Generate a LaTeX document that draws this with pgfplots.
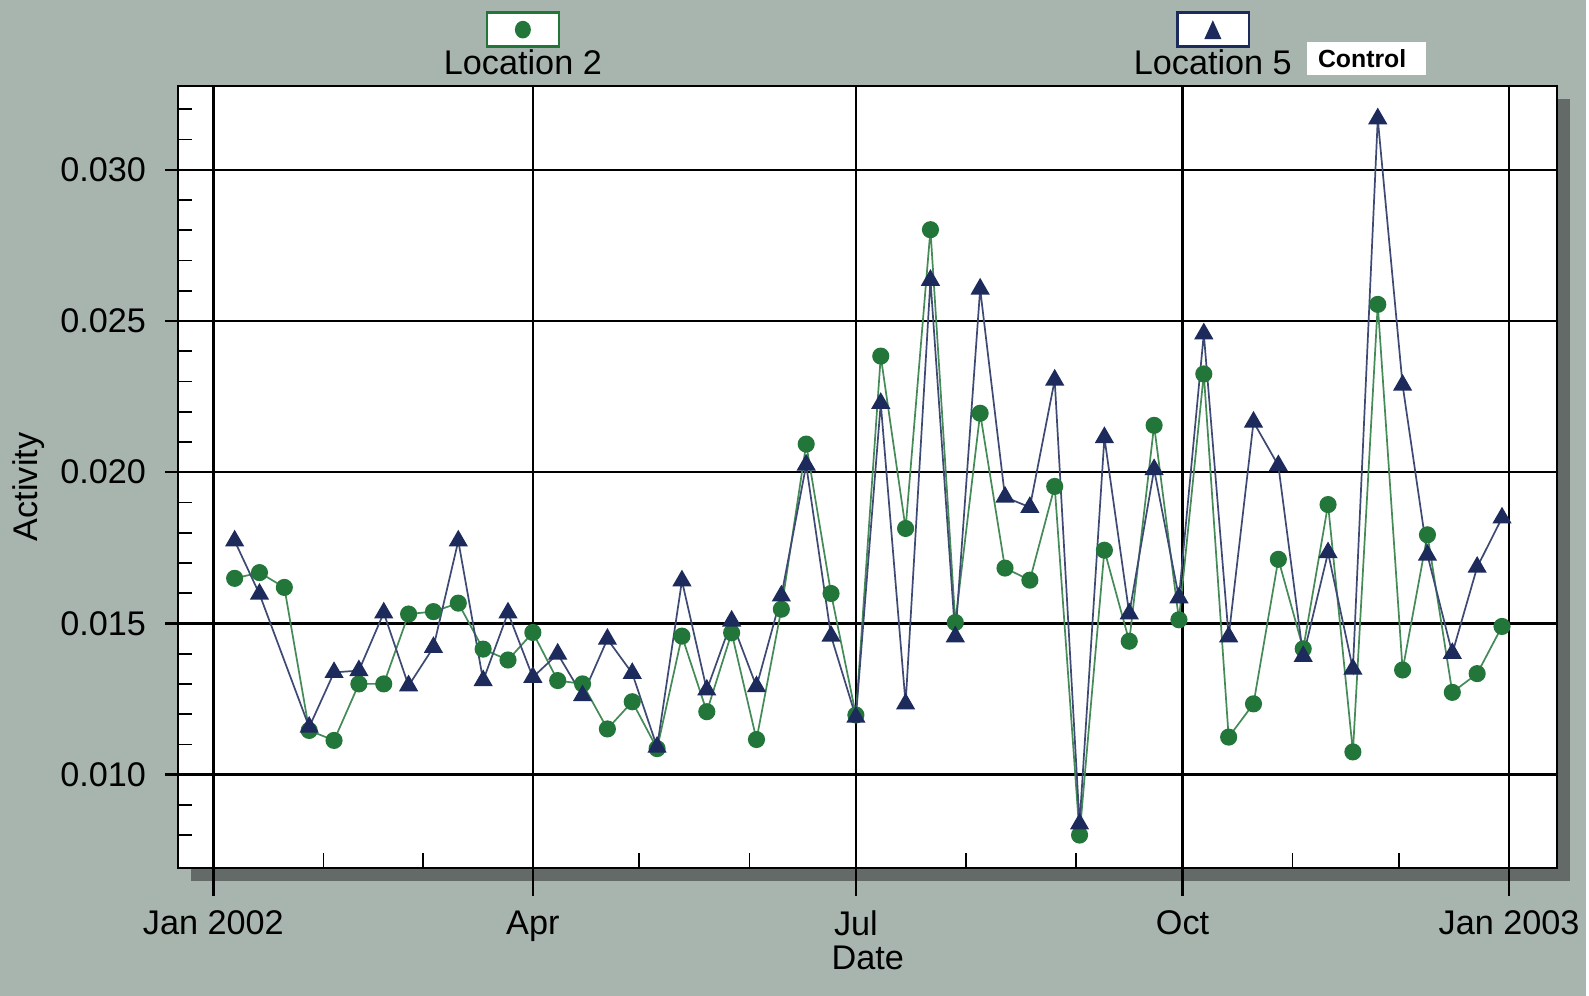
\documentclass[border=0pt]{standalone}
\usepackage{pgfplots}
\pgfplotsset{compat=1.18}
\usepackage{pgfplotstable}
\usepackage{fontspec}
\setmainfont{Liberation Sans}
\definecolor{bgcol}{RGB}{168,181,175}
\definecolor{shadowcol}{RGB}{100,106,104}
\definecolor{locgreen}{RGB}{35,118,58}
\definecolor{locnavy}{RGB}{28,42,92}

\pgfplotstableread{
day val
6 0.01649
13 0.01668
20 0.01619
27 0.01146
34 0.01113
41 0.01300
48 0.01300
55 0.01531
62 0.01539
69 0.01567
76 0.01415
83 0.01379
90 0.01470
97 0.01311
104 0.01300
111 0.01151
118 0.01241
125 0.01086
132 0.01458
139 0.01208
146 0.01469
153 0.01116
160 0.01547
167 0.02093
174 0.01599
181 0.01197
188 0.02384
195 0.01814
202 0.02802
209 0.01503
216 0.02195
223 0.01683
230 0.01643
237 0.01953
244 0.00800
251 0.01742
258 0.01441
265 0.02155
272 0.01512
279 0.02325
286 0.01124
293 0.01234
300 0.01712
307 0.01416
314 0.01893
321 0.01075
328 0.02555
335 0.01346
342 0.01793
349 0.01272
356 0.01334
363 0.01490
}\loctwo

\pgfplotstableread{
day val
6 0.01773
13 0.01597
27 0.01157
34 0.01338
41 0.01344
48 0.01535
55 0.01294
62 0.01421
69 0.01773
76 0.01311
83 0.01535
90 0.01322
97 0.01399
104 0.01261
111 0.01448
118 0.01335
125 0.01091
132 0.01641
139 0.01280
146 0.01508
153 0.01291
160 0.01591
167 0.02024
174 0.01458
181 0.01190
188 0.02228
195 0.01234
202 0.02635
209 0.01456
216 0.02606
223 0.01918
230 0.01884
237 0.02305
244 0.00837
251 0.02115
258 0.01532
265 0.02009
272 0.01585
279 0.02458
286 0.01456
293 0.02166
300 0.02022
307 0.01391
314 0.01734
321 0.01349
328 0.03169
335 0.02288
342 0.01726
349 0.01401
356 0.01686
363 0.01849
}\locfive

\begin{document}
\begin{tikzpicture}[font=\fontsize{12}{14}\selectfont]
% background and shadow
\fill[bgcol] (0,0) rectangle (556.15pt,349.3pt);
\fill[shadowcol] (67pt,40.43pt) rectangle (550.79pt,314.63pt);

\begin{axis}[
  at={(62.44pt,44.98pt)}, anchor=south west,
  scale only axis, width=483.8pt, height=274.2pt,
  xmin=-9.95, xmax=378.6,
  ymin=0.006923, ymax=0.032776,
  axis background/.style={fill=white},
  axis line style={black, line width=0.7pt},
  xtick={0,90,181,273,365},
  xticklabels={Jan 2002,Apr,Jul,Oct,Jan 2003},
  minor xtick={31,59,120,151,212,243,304,334},
  ytick={0.010,0.015,0.020,0.025,0.030},
  yticklabels={0.010,0.015,0.020,0.025,0.030},
  minor ytick={0.008,0.009,0.011,0.012,0.013,0.014,0.016,0.017,0.018,0.019,0.021,0.022,0.023,0.024,0.026,0.027,0.028,0.029,0.031,0.032},
  scaled y ticks=false,
  tick pos=left,
  tick align=inside,
  major tick length=5pt, minor tick length=5pt,
  every tick/.style={black, line width=0.6pt},
  xmajorgrids, ymajorgrids,
  major grid style={black, line width=0.85pt},
  tick label style={font=\fontsize{12}{14}\selectfont, text=black},
  yticklabel style={xshift=-7.7pt},
  xticklabel style={yshift=-11.6pt},
  xlabel={Date}, ylabel={Activity},
  xlabel style={at={(axis description cs:0.5,-0.115)}, anchor=center, font=\fontsize{12}{14}\selectfont},
  ylabel style={at={(axis description cs:-0.1085,0.487)}, anchor=center, rotate=0, font=\fontsize{12}{14}\selectfont},
  clip=false,
]
\addplot[color=locgreen!85!white, line width=0.6pt, mark=*, mark size=2.7pt,
  mark options={fill=locgreen, draw=locgreen, solid}] table[x=day, y=val] {\loctwo};
\addplot[color=locnavy!85!white, line width=0.6pt, mark=triangle*, mark size=3.3pt,
  mark options={fill=locnavy, draw=locnavy, solid}] table[x=day, y=val] {\locfive};
% outward extensions of major grid lines
\foreach \d in {0,90,181,273,365} {
  \edef\tmp{\noexpand\draw[black, line width=0.85pt] (axis cs:\d,0.006923) -- ++(0pt,-10pt);}\tmp
}
\foreach \v in {0.010,0.015,0.020,0.025,0.030} {
  \edef\tmp{\noexpand\draw[black, line width=0.85pt] (axis cs:-9.95,\v) -- ++(-4.7pt,0pt);}\tmp
}
\end{axis}

% legend
\draw[locgreen, line width=0.8pt, fill=white] (170.9pt,333.0pt) rectangle (196.0pt,344.9pt);
\fill[locgreen] (183.4pt,338.9pt) ellipse [x radius=2.8pt, y radius=3.1pt];
\node[anchor=center] at (183.4pt,327.4pt) {Location 2};
\draw[locnavy, line width=0.8pt, fill=white] (413pt,333.0pt) rectangle (438pt,344.9pt);
\fill[locnavy] (422.4pt,335.6pt) -- (428.4pt,335.6pt) -- (425.4pt,342.2pt) -- cycle;
\node[anchor=center] at (425.4pt,327.4pt) {Location 5};
\fill[white] (458.5pt,323.0pt) rectangle (500pt,334.4pt);
\node[anchor=center, font=\fontsize{8.7}{10}\selectfont\bfseries] at (477.75pt,328.6pt) {Control};
\end{tikzpicture}
\end{document}
